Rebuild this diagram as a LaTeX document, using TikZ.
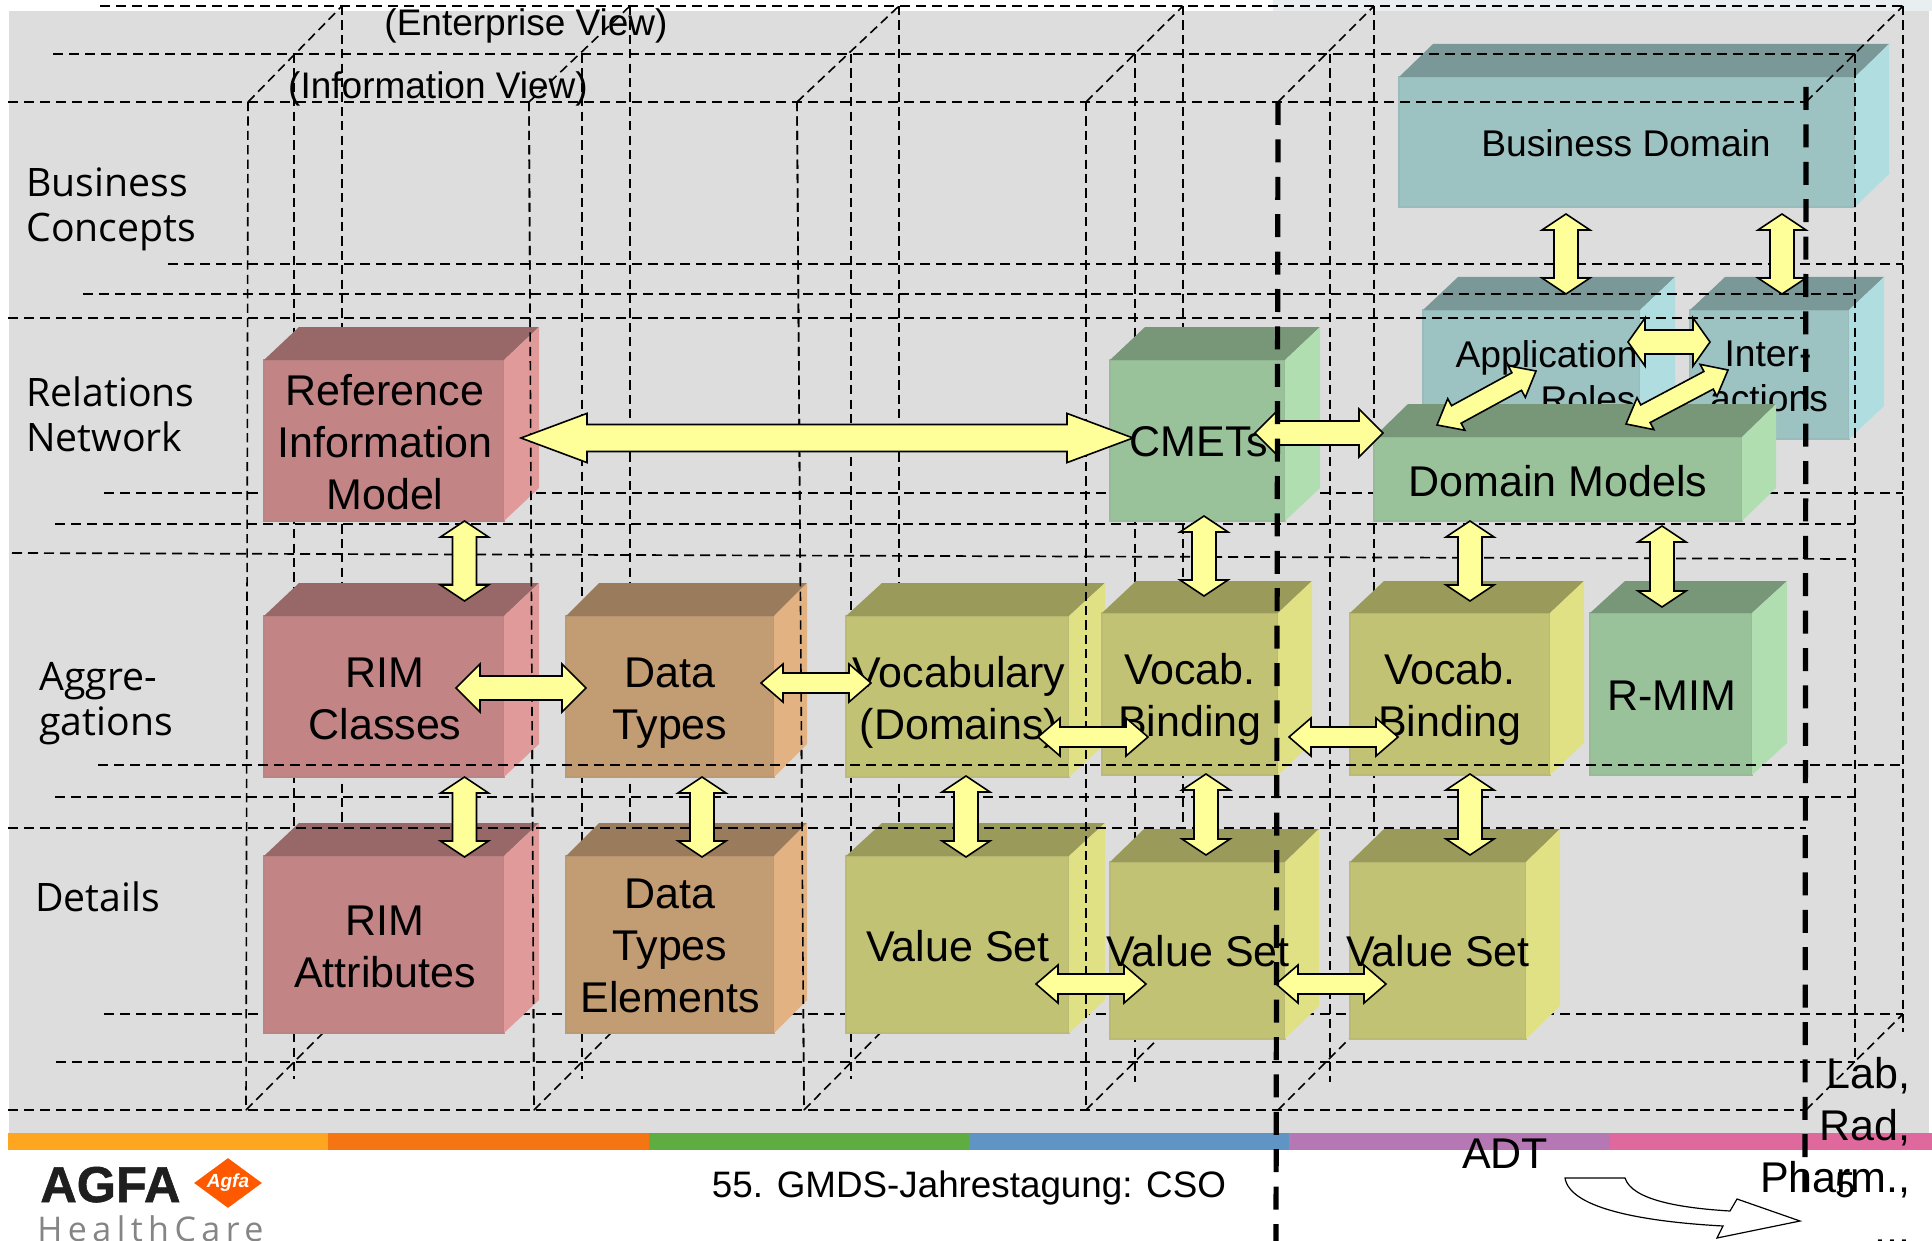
\documentclass[tikz,border=0pt]{standalone}
\usepackage{fontspec}
\setmainfont{Liberation Sans}
\newfontfamily\lblfont{Open Sans}
\newfontfamily\hcfont[LetterSpace=16]{Open Sans}
\newfontfamily\agfafont[FakeBold=1.2]{Liberation Sans Bold}
\usetikzlibrary{calc,shapes.geometric}
\definecolor{bggrey}{HTML}{DDDDDD}
\definecolor{bgtop}{HTML}{E9EEF0}
\definecolor{arrowfill}{HTML}{FFFF99}
\definecolor{redfront}{HTML}{C28484}\definecolor{redtop}{HTML}{986868}\definecolor{redside}{HTML}{E09A9A}
\definecolor{tanfront}{HTML}{C29C72}\definecolor{tantop}{HTML}{9A7C5C}\definecolor{tanside}{HTML}{E2B282}
\definecolor{olvfront}{HTML}{C2C274}\definecolor{olvtop}{HTML}{9A9A5A}\definecolor{olvside}{HTML}{E0E084}
\definecolor{grnfront}{HTML}{9AC29A}\definecolor{grntop}{HTML}{789678}\definecolor{grnside}{HTML}{B0DEB0}
\definecolor{tealfront}{HTML}{9CC2C2}\definecolor{tealtop}{HTML}{7A9898}\definecolor{tealside}{HTML}{B0DEE0}
\definecolor{barA}{HTML}{FFA620}\definecolor{barB}{HTML}{F57512}\definecolor{barC}{HTML}{5FAD41}
\definecolor{barD}{HTML}{5F94C4}\definecolor{barE}{HTML}{B678B5}\definecolor{barF}{HTML}{DF689C}
\tikzset{
  x=0.5pt,y=-0.5pt,
  griddash/.style={draw=black,line width=.85pt,dash pattern=on 5pt off 3pt},
  griddashv/.style={draw=black,line width=.8pt,dash pattern=on 4.6pt off 2.6pt},
  thickdash/.style={draw=black,line width=2.6pt,dash pattern=on 11.5pt off 7.2pt},
  boxtext/.style={font=\fontsize{21.5}{26}\selectfont,align=center,inner sep=0pt,text=black},
  tealtext/.style={font=\fontsize{18.6}{22}\selectfont,align=center,inner sep=0pt,text=black},
  sidelabel/.style={font=\lblfont\fontsize{19.6}{22.5}\selectfont,align=left,anchor=west,inner sep=0pt},
  viewlabel/.style={font=\fontsize{18.5}{22}\selectfont,inner sep=0pt},
  blockarrow/.style args={#1/#2/#3}{draw=black,fill=arrowfill,line width=.8pt,line join=miter,
    to path={
      -- ($(\tikztostart)!#3!(\tikztotarget)!#2!90:(\tikztotarget)$)
      -- ($(\tikztostart)!#3!(\tikztotarget)!#1!90:(\tikztotarget)$)
      -- ($(\tikztotarget)!#3!(\tikztostart)!#1!-90:(\tikztostart)$)
      -- ($(\tikztotarget)!#3!(\tikztostart)!#2!-90:(\tikztostart)$)
      -- (\tikztotarget)
      -- ($(\tikztotarget)!#3!(\tikztostart)!#2!90:(\tikztostart)$)
      -- ($(\tikztotarget)!#3!(\tikztostart)!#1!90:(\tikztostart)$)
      -- ($(\tikztostart)!#3!(\tikztotarget)!#1!-90:(\tikztotarget)$)
      -- ($(\tikztostart)!#3!(\tikztotarget)!#2!-90:(\tikztotarget)$)
      -- cycle}},
  vertarrow/.style={blockarrow=6pt/12pt/8pt},
  horzarrow/.style={blockarrow=6pt/12pt/12pt},
  smallarrow/.style={blockarrow=5pt/9.5pt/11pt},
  diagarrow/.style={blockarrow=5pt/9pt/11pt},
  bigarrow/.style={blockarrow=6.75pt/12.3pt/33pt},
}
% \cube{name}{x1}{y1}{x2}{y2}{dx}{dy}{palette}
\newcommand{\cube}[8]{%
  \pgfmathsetmacro{\cw}{(#4-#2)*0.5}\pgfmathsetmacro{\ch}{(#5-#3)*0.5}%
  \pgfmathsetmacro{\ccx}{(#2+#4)/2}\pgfmathsetmacro{\ccy}{(#3+#5)/2}%
  \node[inner sep=0pt,outer sep=0pt,minimum width=\cw pt,minimum height=\ch pt,fill=#8front,draw=#8front!90!gray,line width=.6pt] (#1) at (\ccx,\ccy) {};
  \fill[#8top] (#1.north west) -- ++(#6,-#7) -- ($(#1.north east)+(#6,-#7)$) -- (#1.north east) -- cycle;
  \fill[#8side] (#1.north east) -- ++(#6,-#7) -- ($(#1.south east)+(#6,-#7)$) -- (#1.south east) -- cycle;
}
\newcommand{\arrowlink}[4]{%
  \coordinate (#1s) at (#2);\coordinate (#1e) at (#3);
  \draw[#4] (#1s) to (#1e);
}
\begin{document}
\begin{tikzpicture}
\useasboundingbox (0,0) rectangle (1932,1241);
% backgrounds
\fill[white] (0,0) rectangle (1932,1241);
\fill[bggrey] (9,11) rectangle (1929,1133);
\fill[bgtop] (1273,0) rectangle (1932,11);
% teal boxes sit behind the grid
\cube{business}{1399}{77}{1855}{207}{34}{33}{teal}
\cube{approles}{1423}{310}{1640}{439}{35}{33}{teal}
\cube{interact}{1690}{310}{1849}{439}{35}{33}{teal}
\node[tealtext] (tbusiness) at (1626,143) {Business Domain};
\node[tealtext,anchor=east] (tapp1) at (1638,358) {Application};
\node[tealtext,anchor=east] (tapp2) at (1636,399) {Roles};
\node[tealtext] (tint1) at (1768,354) {Inter-};
\node[tealtext] (tint2) at (1769,398) {actions};
% grid: horizontals
\foreach \xa/\ya/\xb/\yb in {
  100/6/1903/6, 53/54/1855/54, 8/102/1806/102,
  168/264/1903/264, 83/294/1855/294, 8/318/1806/318,
  104/493/1903/493, 55/524/1855/524, 12/553/1855/559,
  55/797/1855/797,
  104/1014/1903/1014, 56/1062/1855/1062, 8/1110/1806/1110}
  \draw[griddash] (\xa,\ya) -- (\xb,\yb);
% grid: verticals
\foreach \xa/\xb in {248/246,529/534,797/804,1086/1086}
  \draw[griddashv] (\xa,102) -- (\xb,1110);
\foreach \xa/\yb in {294/1079,582/1079,851/1079,1135/1082,1330/1082,1855/1062}
  \draw[griddashv] (\xa,54) -- (\xa,\yb);
\foreach \xa in {342,630,899,1183,1374,1903}
  \draw[griddashv] (\xa,6) -- (\xa,1032);
% grid: diagonals
\foreach \xa/\xb in {248/342,529/630,797/899,1086/1183,1278/1374,1806/1903}
  \draw[griddashv] (\xa,102) -- (\xb,6);
\foreach \xa/\xb in {246/342,534/630,804/899,1086/1183,1278/1374,1806/1903}
  \draw[griddashv] (\xa,1110) -- (\xb,1014);
% opaque boxes
\cube{refmodel}{264}{360}{504}{521}{35}{33}{red}
\cube{rimclasses}{264}{616}{504}{777}{35}{33}{red}
\cube{rimattrs}{264}{856}{504}{1033}{35}{33}{red}
\cube{datatypes}{566}{616}{774}{777}{33}{33}{tan}
\cube{dataelems}{566}{856}{774}{1033}{33}{33}{tan}
\cube{vocabulary}{846}{616}{1069}{777}{36}{33}{olv}
\cube{valueone}{846}{856}{1069}{1033}{36}{33}{olv}
\cube{bindone}{1102}{613}{1278}{775}{34}{32}{olv}
\cube{valuetwo}{1110}{862}{1285}{1039}{34}{33}{olv}
\cube{bindtwo}{1350}{613}{1550}{775}{34}{32}{olv}
\cube{valuethree}{1350}{862}{1526}{1039}{34}{33}{olv}
\cube{rmim}{1590}{613}{1752}{775}{35}{32}{grn}
\cube{cmets}{1110}{360}{1285}{521}{35}{33}{grn}
\cube{domain}{1374}{437}{1742}{521}{34}{33}{grn}
% lines that run over the boxes
\draw[griddash] (98,765) -- (1903,765);
\draw[griddash] (8,828) -- (1806,828);
\foreach \xa/\xb in {529/534,797/804,1086/1086}
  \draw[griddashv] (\xa,102) -- (\xb,1110);
% box texts
\node[boxtext] (trm) at (385,442) {Reference\\Information\\Model};
\node[boxtext] (trc) at (385,699) {RIM\\Classes};
\node[boxtext] (tra) at (385,947) {RIM\\Attributes};
\node[boxtext] (tdt) at (670,703) {Data\\Types};
\node[boxtext] (tde) at (670,946) {Data\\Types\\Elements};
\node[boxtext] (tvo) at (959,702) {Vocabulary\\(Domains)};
\node[boxtext] (tb1) at (1190,699.5) {Vocab.\\Binding};
\node[boxtext] (tb2) at (1450,699.5) {Vocab.\\Binding};
\node[boxtext] (trm2) at (1672,696) {R-MIM};
\node[boxtext] (tv1) at (958,946) {Value Set};
\node[boxtext] (tv2) at (1198,951) {Value Set};
\node[boxtext] (tv3) at (1438,951) {Value Set};
\node[boxtext] (tcm) at (1199,442) {CMETs};
\node[boxtext] (tdm) at (1558,481) {Domain Models};
% side labels
\node[sidelabel] (lbc) at (26,209) {Business\\Concepts};
\node[sidelabel] (lrn) at (26,414) {Relations\\Network};
\node[sidelabel] (lag) at (39,704) {Aggre-\\gations};
\node[sidelabel] (lde) at (35,897) {Details};
\node[viewlabel] (lev) at (526,26) {(Enterprise View)};
\node[viewlabel] (liv) at (438,89) {(Information View)};
% colour bar
\fill[barA] (8,1133) rectangle (328,1150);
\fill[barB] (328,1133) rectangle (649,1150);
\fill[barC] (649,1133) rectangle (969,1150);
\fill[barD] (969,1133) rectangle (1289,1150);
\fill[barE] (1289,1133) rectangle (1610,1150);
\fill[barF] (1610,1133) rectangle (1932,1150);
% block arrows
\arrowlink{a1}{521,438}{1133,438}{bigarrow}
\arrowlink{a2}{1255,433}{1383,433}{horzarrow}
\arrowlink{a3}{1566,214}{1566,294}{vertarrow}
\arrowlink{a4}{1782,214}{1782,294}{vertarrow}
\arrowlink{a5}{1628,342}{1710,342}{blockarrow=6pt/12pt/8.5pt}
\arrowlink{a6}{1437,425}{1536,371}{diagarrow}
\arrowlink{a7}{1626,424}{1728,370}{diagarrow}
\arrowlink{a8}{464.5,521}{464.5,601}{vertarrow}
\arrowlink{a9}{456,688}{586,688}{horzarrow}
\arrowlink{a10}{761,683}{871,683}{smallarrow}
\arrowlink{a11}{1038,737}{1148,737}{smallarrow}
\arrowlink{a12}{1289,737}{1398,737}{smallarrow}
\arrowlink{a13}{1036,984}{1146,984}{smallarrow}
\arrowlink{a14}{1276,984}{1386,984}{smallarrow}
\arrowlink{a15}{1204,516}{1204,596}{vertarrow}
\arrowlink{a16}{1470,521}{1470,601}{vertarrow}
\arrowlink{a17}{1662,526}{1662,607}{vertarrow}
\arrowlink{a18}{464.5,777}{464.5,857}{vertarrow}
\arrowlink{a19}{702,777}{702,857}{vertarrow}
\arrowlink{a20}{966,776}{966,857}{vertarrow}
\arrowlink{a21}{1206,774}{1206,855}{vertarrow}
\arrowlink{a22}{1470,774}{1470,855}{vertarrow}
% footer
\node[inner sep=0pt,font=\fontsize{18.4}{22}\selectfont] (footer) at (969,1188) {55. GMDS-Jahrestagung: CSO};
\node[inner sep=0pt,font=\fontsize{18}{22}\selectfont] (pageno) at (1845,1185) {5};
\node[boxtext] (adt) at (1505,1154) {ADT};
\node[boxtext,align=right,anchor=north east] (labrad) at (1911,1057) {Lab,\\Rad,\\Pharm.,\\...};
\draw[fill=white,line width=.6pt] (1565,1178) -- (1625,1178) .. controls (1632,1200) and (1680,1208) .. (1730,1211) -- (1737,1199) -- (1800,1221) -- (1717,1238) -- (1723,1226) .. controls (1650,1222) and (1570,1210) .. (1565,1178) -- cycle;
% logo
\node[inner sep=0pt,anchor=base west,font=\agfafont\fontsize{25.2}{28}\selectfont,text=black!88] (agfa) at (40,1202) {AGFA};
\node[diamond,aspect=1.36,fill=orange!70!red,inner sep=0pt,minimum width=34pt,minimum height=25pt] (agfadia) at (228,1183) {};
\node[inner sep=0pt,font=\bfseries\itshape\fontsize{9.5}{12}\selectfont,text=white] (agfasmall) at (228,1183) {Agfa};
\node[inner sep=0pt,anchor=base west,font=\hcfont\fontsize{17}{20}\selectfont,text=black!48] (hc) at (37,1241) {HealthCare};
% thick separators
\coordinate (sepAtop) at (1278,102);\coordinate (sepAbot) at (1276,1241);
\coordinate (sepBtop) at (1806,87);\coordinate (sepBbot) at (1805,1192);
\draw[thickdash] (sepAtop) -- (sepAbot);
\draw[thickdash] (sepBtop) -- (sepBbot);
\end{tikzpicture}
\end{document}
